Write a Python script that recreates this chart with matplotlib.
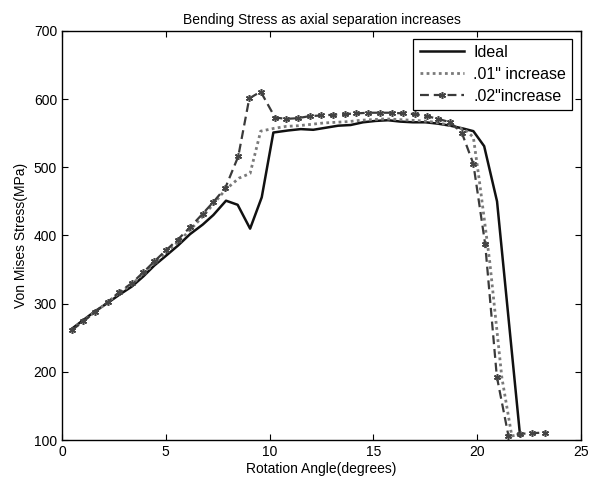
import matplotlib
matplotlib.use("Agg")
import matplotlib.pyplot as plt

plt.rcParams['font.family'] = ['Liberation Sans', 'DejaVu Sans']

# Ideal (solid line)
ideal_x = [0.47, 1.03, 1.6, 2.2, 2.76, 3.36, 3.92, 4.45, 5.0, 5.58, 6.17, 6.78, 7.29, 7.9,
           8.46, 9.06, 9.62, 10.18, 10.89, 11.5, 12.1, 12.7, 13.3, 13.9, 14.5, 15.1, 15.7,
           16.3, 16.9, 17.5, 18.1, 18.7, 19.3, 19.81, 20.33, 20.95, 22.06]
ideal_y = [263, 276, 289, 301, 313, 325, 340, 356, 370, 385, 402, 416, 430, 451,
           445, 410, 456, 551, 554, 556, 555, 558, 561, 562, 566, 568, 569,
           567, 566, 566, 564, 561, 557, 553, 531, 450, 106]

# .01" increase (dotted line)
inc01_x = [0.47, 1.03, 1.6, 2.2, 2.76, 3.36, 3.92, 4.45, 5.0, 5.58, 6.17, 6.78, 7.29, 7.87,
           8.52, 9.06, 9.57, 10.2, 10.8, 11.4, 12.0, 12.6, 13.2, 13.8, 14.4, 15.0, 15.6,
           16.2, 16.8, 17.4, 18.0, 18.6, 19.2, 19.49, 19.81, 20.1, 20.6, 21.18, 21.66, 22.06]
inc01_y = [262, 275, 288, 302, 316, 328, 344, 359, 375, 390, 408, 428, 446, 467,
           484, 491, 553, 557, 560, 561, 563, 565, 566, 567, 569, 570, 571,
           570, 569, 568, 566, 562, 557, 553, 544, 480, 361, 192, 106, 108]

# .02" increase (dashed line with markers)
inc02_x = [0.47, 1.03, 1.6, 2.2, 2.76, 3.36, 3.92, 4.45, 5.0, 5.58, 6.17, 6.78, 7.29, 7.87,
           8.49, 9.02, 9.57, 10.26, 10.79, 11.35, 11.92, 12.48, 13.05, 13.61, 14.17, 14.74,
           15.3, 15.87, 16.43, 17.0, 17.56, 18.12, 18.69, 19.25, 19.81, 20.38, 20.94, 21.5,
           22.06, 22.62, 23.27]
inc02_y = [261, 274, 288, 302, 317, 330, 346, 362, 378, 394, 412, 432, 449, 470,
           516, 601, 611, 573, 571, 572, 575, 576, 577, 578, 579, 580,
           580, 580, 579, 578, 575, 571, 566, 551, 505, 387, 193, 106,
           109, 110, 111]

fig = plt.figure(figsize=(5.9, 4.87), dpi=100)
ax = fig.add_axes([0.105, 0.0965, 0.88, 0.84])

ax.plot(ideal_x, ideal_y, color='#111111', linewidth=1.8, label='Ideal')
ax.plot(inc01_x, inc01_y, color='#7a7a7a', linewidth=2.0, linestyle=(0, (1, 1.2)),
        label='.01" increase')
ax.plot(inc02_x, inc02_y, color='#3a3a3a', linewidth=1.6, linestyle=(0, (4, 2.2)),
        marker=(6, 2, 0), markersize=5, markeredgewidth=1.1, markeredgecolor='#444444',
        label='.02"increase')

ax.set_xlim(0, 25)
ax.set_ylim(100, 700)
ax.set_xticks([0, 5, 10, 15, 20, 25])
ax.set_yticks([100, 200, 300, 400, 500, 600, 700])
ax.tick_params(direction='in', top=True, right=True, length=4, labelsize=10)
for s in ax.spines.values():
    s.set_linewidth(1.0)

ax.set_title('Bending Stress as axial separation increases', fontsize=10, pad=5)
ax.set_xlabel('Rotation Angle(degrees)', fontsize=10, labelpad=2)
ax.set_ylabel('Von Mises Stress(MPa)', fontsize=10, labelpad=4)

leg = ax.legend(loc='upper right', bbox_to_anchor=(0.983, 0.981), borderaxespad=0,
                fancybox=False, framealpha=1, edgecolor='black', fontsize=11.5,
                handlelength=2.8, handletextpad=0.55, labelspacing=0.42,
                borderpad=0.4)
leg.get_frame().set_linewidth(0.9)

plt.savefig('out.png', dpi=100)
